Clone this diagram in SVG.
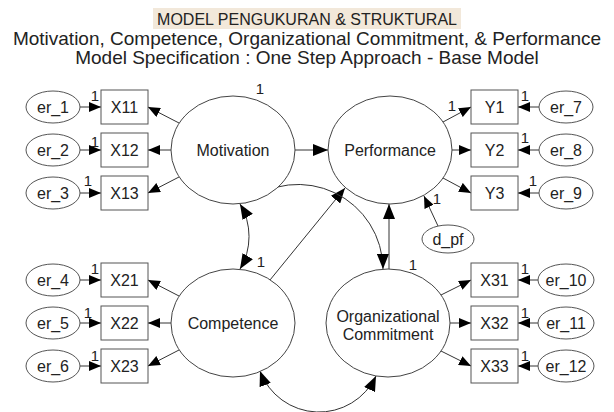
<svg xmlns="http://www.w3.org/2000/svg" width="614" height="412" viewBox="0 0 614 412">
<defs>
<style>
text{font-family:"Liberation Sans",Arial,sans-serif;fill:#222}
.t1{font-size:16px}
.t2{font-size:19px}
.lab{font-size:16px;text-anchor:middle}
.one{font-size:15px;text-anchor:middle}
.lat{fill:#fff;stroke:#444;stroke-width:1}
.obs{fill:#fff;stroke:#555;stroke-width:1}
.err{fill:#fff;stroke:#555;stroke-width:1}
.c line,.c path{stroke:#333;stroke-width:1;fill:none}
.m{marker-end:url(#a1)}
.s{marker-end:url(#a2)}
.cv{marker-start:url(#a2);marker-end:url(#a2)}
</style>
<marker id="a1" viewBox="0 0 12 10" refX="12" refY="5" markerWidth="12" markerHeight="10" markerUnits="userSpaceOnUse" orient="auto-start-reverse"><path d="M0,0L12,5L0,10z" fill="#000"/></marker>
<marker id="a2" viewBox="0 0 15 12" refX="15" refY="6" markerWidth="15" markerHeight="12" markerUnits="userSpaceOnUse" orient="auto-start-reverse"><path d="M0,0L15,6L0,12z" fill="#000"/></marker>
</defs>
<g id="title">
<rect x="153" y="8" width="308" height="21" fill="#f2e8da"/>
<text class="t1" x="307" y="25" text-anchor="middle">MODEL PENGUKURAN &amp; STRUKTURAL</text>
<text class="t2" x="307" y="45" text-anchor="middle">Motivation, Competence, Organizational Commitment, &amp; Performance</text>
<text class="t2" x="307" y="64" text-anchor="middle">Model Specification : One Step Approach - Base Model</text>
</g>
<g id="connectors" class="c">
<line class="m" x1="80" y1="107" x2="101" y2="107"/>
<line class="m" x1="80" y1="150" x2="101" y2="150"/>
<line class="m" x1="80" y1="193" x2="101" y2="193"/>
<line class="m" x1="80" y1="280" x2="101" y2="280"/>
<line class="m" x1="80" y1="323" x2="101" y2="323"/>
<line class="m" x1="80" y1="366" x2="101" y2="366"/>
<line class="m" x1="539" y1="107" x2="518" y2="107"/>
<line class="m" x1="539" y1="150" x2="518" y2="150"/>
<line class="m" x1="539" y1="193" x2="518" y2="193"/>
<line class="m" x1="539" y1="280" x2="518" y2="280"/>
<line class="m" x1="539" y1="323" x2="518" y2="323"/>
<line class="m" x1="539" y1="366" x2="518" y2="366"/>
<line class="m" x1="179" y1="123" x2="148" y2="107"/>
<line class="m" x1="171" y1="150" x2="148" y2="150"/>
<line class="m" x1="179" y1="177" x2="148" y2="193"/>
<line class="m" x1="179" y1="296" x2="148" y2="280"/>
<line class="m" x1="171" y1="323" x2="148" y2="323"/>
<line class="m" x1="179" y1="350" x2="148" y2="366"/>
<line class="m" x1="443" y1="122" x2="471" y2="107"/>
<line class="m" x1="452" y1="150" x2="471" y2="150"/>
<line class="m" x1="443" y1="178" x2="471" y2="193"/>
<line class="m" x1="441" y1="295" x2="471" y2="280"/>
<line class="m" x1="450" y1="323" x2="471" y2="323"/>
<line class="m" x1="441" y1="351" x2="471" y2="366"/>
<line class="m" x1="438" y1="226" x2="424" y2="196"/>
<line class="s" x1="295" y1="150" x2="328" y2="150"/>
<line class="s" x1="270" y1="280" x2="345" y2="188"/>
<line class="s" x1="389" y1="269" x2="389" y2="204"/>
<path class="cv" d="M240,204 A63,63 0 0 1 240,269"/>
<path class="cv" d="M245,203 A85,85 0 0 1 383,269"/>
<path class="cv" d="M260,371 A63,63 0 0 0 376,376"/>
</g>
<g id="Motivation"><ellipse class="lat" cx="233" cy="150" rx="62" ry="54"/><text class="lab" x="233" y="156">Motivation</text><text class="one" x="260" y="94">1</text></g>
<g id="Performance"><ellipse class="lat" cx="390" cy="150" rx="62" ry="54"/><text class="lab" x="390" y="156">Performance</text></g>
<g id="Competence"><ellipse class="lat" cx="233" cy="323" rx="62" ry="54"/><text class="lab" x="233" y="329">Competence</text><text class="one" x="261" y="267">1</text></g>
<g id="OrgCommitment"><ellipse class="lat" cx="388" cy="323" rx="62" ry="54"/><text class="lab" x="388" y="322">Organizational</text><text class="lab" x="388" y="340">Commitment</text><text class="one" x="413" y="270">1</text></g>
<g id="X11"><rect class="obs" x="101" y="90" width="47" height="34"/><text class="lab" x="124.5" y="113">X11</text></g>
<g id="X12"><rect class="obs" x="101" y="133" width="47" height="34"/><text class="lab" x="124.5" y="156">X12</text></g>
<g id="X13"><rect class="obs" x="101" y="176" width="47" height="34"/><text class="lab" x="124.5" y="199">X13</text></g>
<g id="X21"><rect class="obs" x="101" y="263" width="47" height="34"/><text class="lab" x="124.5" y="286">X21</text></g>
<g id="X22"><rect class="obs" x="101" y="306" width="47" height="34"/><text class="lab" x="124.5" y="329">X22</text></g>
<g id="X23"><rect class="obs" x="101" y="349" width="47" height="34"/><text class="lab" x="124.5" y="372">X23</text></g>
<g id="Y1"><rect class="obs" x="471" y="90" width="47" height="34"/><text class="lab" x="494.5" y="113">Y1</text></g>
<g id="Y2"><rect class="obs" x="471" y="133" width="47" height="34"/><text class="lab" x="494.5" y="156">Y2</text></g>
<g id="Y3"><rect class="obs" x="471" y="176" width="47" height="34"/><text class="lab" x="494.5" y="199">Y3</text></g>
<g id="X31"><rect class="obs" x="471" y="263" width="47" height="34"/><text class="lab" x="494.5" y="286">X31</text></g>
<g id="X32"><rect class="obs" x="471" y="306" width="47" height="34"/><text class="lab" x="494.5" y="329">X32</text></g>
<g id="X33"><rect class="obs" x="471" y="349" width="47" height="34"/><text class="lab" x="494.5" y="372">X33</text></g>
<g id="er_1"><ellipse class="err" cx="53" cy="107" rx="27" ry="16"/><text class="lab" x="53" y="113">er_1</text><text class="one" x="95" y="101">1</text></g>
<g id="er_2"><ellipse class="err" cx="53" cy="150" rx="27" ry="16"/><text class="lab" x="53" y="156">er_2</text><text class="one" x="95" y="147">1</text></g>
<g id="er_3"><ellipse class="err" cx="53" cy="193" rx="27" ry="16"/><text class="lab" x="53" y="199">er_3</text><text class="one" x="88" y="186">1</text></g>
<g id="er_4"><ellipse class="err" cx="53" cy="280" rx="27" ry="16"/><text class="lab" x="53" y="286">er_4</text><text class="one" x="95" y="274">1</text></g>
<g id="er_5"><ellipse class="err" cx="53" cy="323" rx="27" ry="16"/><text class="lab" x="53" y="329">er_5</text><text class="one" x="88" y="318">1</text></g>
<g id="er_6"><ellipse class="err" cx="53" cy="366" rx="27" ry="16"/><text class="lab" x="53" y="372">er_6</text><text class="one" x="95" y="361">1</text></g>
<g id="er_7"><ellipse class="err" cx="566" cy="107" rx="27" ry="16"/><text class="lab" x="566" y="113">er_7</text><text class="one" x="525" y="101">1</text></g>
<g id="er_8"><ellipse class="err" cx="566" cy="150" rx="27" ry="16"/><text class="lab" x="566" y="156">er_8</text><text class="one" x="525" y="143">1</text></g>
<g id="er_9"><ellipse class="err" cx="566" cy="193" rx="27" ry="16"/><text class="lab" x="566" y="199">er_9</text><text class="one" x="533" y="186">1</text></g>
<g id="er_10"><ellipse class="err" cx="566" cy="280" rx="28" ry="16"/><text class="lab" x="566" y="286">er_10</text><text class="one" x="525" y="274">1</text></g>
<g id="er_11"><ellipse class="err" cx="566" cy="323" rx="28" ry="16"/><text class="lab" x="566" y="329">er_11</text><text class="one" x="525" y="318">1</text></g>
<g id="er_12"><ellipse class="err" cx="566" cy="366" rx="28" ry="16"/><text class="lab" x="566" y="372">er_12</text><text class="one" x="525" y="361">1</text></g>
<g id="d_pf"><ellipse class="err" cx="448" cy="239" rx="26" ry="14"/><text class="lab" x="448" y="245">d_pf</text><text class="one" x="437" y="204">1</text></g>
<g id="Performance_path_label"><text class="one" x="452" y="111">1</text></g>
</svg>
